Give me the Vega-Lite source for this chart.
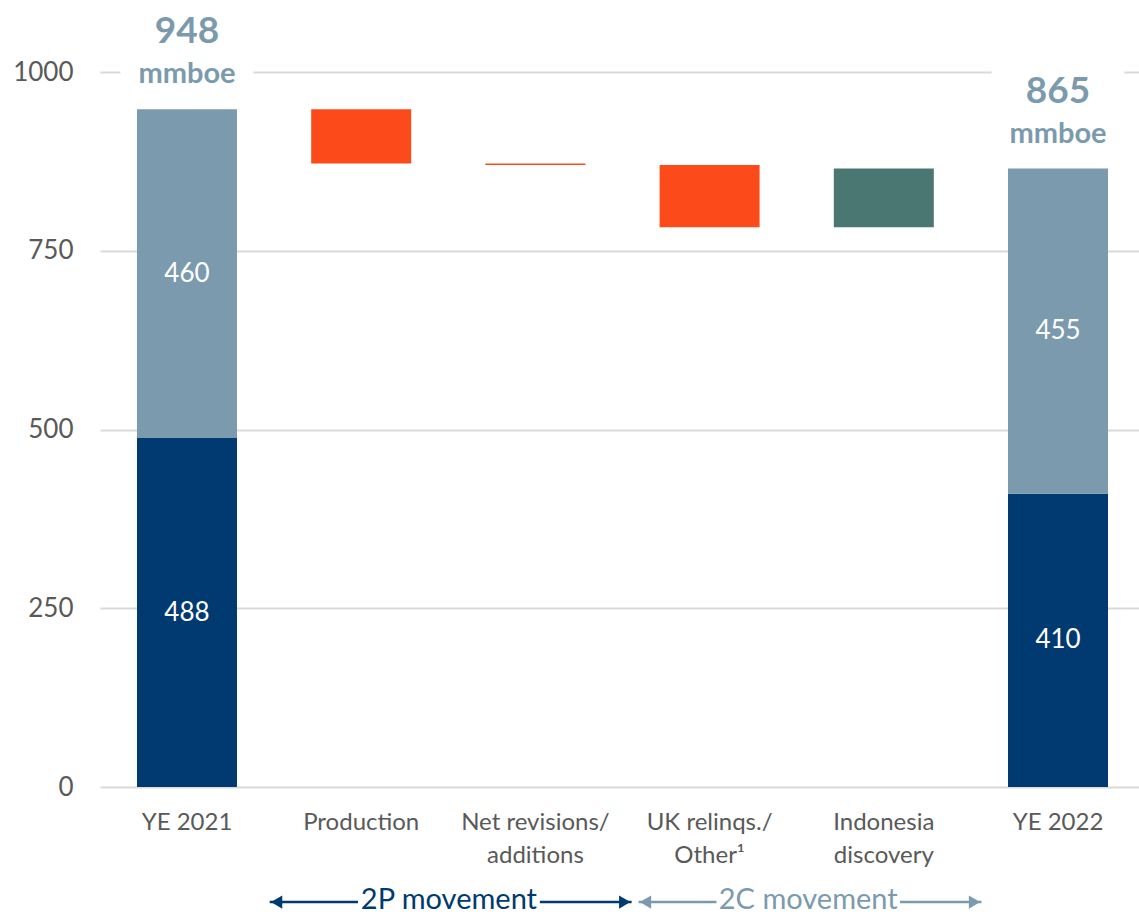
{
  "$schema": "https://vega.github.io/schema/vega-lite/v6.json",
  "width": 1039,
  "height": 715,
  "autosize": {"type": "none"},
  "padding": {"left": 100, "top": 72, "right": 0, "bottom": 129},
  "background": "white",
  "config": {"font": "Lato", "view": {"stroke": null}},
  "datasets": {
    "bars": [
      {"cat": "YE 2021", "start": 0, "end": 488, "type": "2P", "label": "488"},
      {"cat": "YE 2021", "start": 488, "end": 948, "type": "2C", "label": "460"},
      {"cat": "Production", "start": 948, "end": 872, "type": "decrease"},
      {"cat": "Net revisions/|additions", "start": 872, "end": 870, "type": "decrease"},
      {"cat": "UK relinqs./|Other¹", "start": 870, "end": 783, "type": "decrease"},
      {"cat": "Indonesia|discovery", "start": 783, "end": 865, "type": "increase"},
      {"cat": "YE 2022", "start": 0, "end": 410, "type": "2P", "label": "410"},
      {"cat": "YE 2022", "start": 410, "end": 865, "type": "2C", "label": "455"}
    ],
    "totals": [
      {"cat": "YE 2021", "total": 948},
      {"cat": "YE 2022", "total": 865}
    ],
    "segments": [
      {"type": "2P", "x": 0.98, "x2": 1.49},
      {"type": "2P", "x": 2.54, "x2": 3.07},
      {"type": "2C", "x": 3.11, "x2": 3.56},
      {"type": "2C", "x": 4.62, "x2": 5.09}
    ],
    "heads": [
      {"type": "2P", "x": 1.02, "side": "left"},
      {"type": "2P", "x": 3.03, "side": "right"},
      {"type": "2C", "x": 3.15, "side": "left"},
      {"type": "2C", "x": 5.05, "side": "right"}
    ],
    "captions": [
      {"type": "2P", "x": 2.015, "caption": "2P movement"},
      {"type": "2C", "x": 4.09, "caption": "2C movement"}
    ]
  },
  "resolve": {"scale": {"x": "independent"}},
  "layer": [
    {
      "encoding": {
        "x": {
          "field": "cat",
          "type": "nominal",
          "sort": ["YE 2021", "Production", "Net revisions/|additions", "UK relinqs./|Other¹", "Indonesia|discovery", "YE 2022"],
          "scale": {
            "domain": ["YE 2021", "Production", "Net revisions/|additions", "UK relinqs./|Other¹", "Indonesia|discovery", "YE 2022"],
            "range": [0, 1045],
            "paddingInner": 0.426,
            "paddingOuter": 0.2124
          },
          "axis": {
            "title": null,
            "domain": false,
            "ticks": false,
            "labelAngle": 0,
            "labelFontSize": 24,
            "labelColor": "#595959",
            "labelPadding": 23,
            "labelBaseline": "top",
            "labelLineHeight": 33,
            "labelLimit": 300,
            "labelExpr": "split(datum.value, '|')"
          }
        }
      },
      "layer": [
        {
          "data": {"name": "bars"},
          "mark": {"type": "bar"},
          "encoding": {
            "y": {
              "field": "start",
              "type": "quantitative",
              "scale": {"domain": [0, 1000]},
              "axis": {
                "values": [0, 250, 500, 750, 1000],
                "format": "d",
                "title": null,
                "domain": false,
                "ticks": false,
                "grid": true,
                "gridColor": "#D9D9D9",
                "gridWidth": 2,
                "labelFontSize": 26,
                "labelColor": "#595959",
                "labelPadding": 27
              }
            },
            "y2": {"field": "end"},
            "color": {
              "field": "type",
              "type": "nominal",
              "scale": {
                "domain": ["2P", "2C", "decrease", "increase"],
                "range": ["#003A70", "#7B9AAE", "#FC4A1A", "#4A7772"]
              },
              "legend": null
            }
          }
        },
        {
          "data": {"name": "totals"},
          "mark": {"type": "tick", "color": "white", "thickness": 6, "size": 133, "opacity": 1},
          "encoding": {
            "y": {"datum": 1000, "type": "quantitative"}
          }
        },
        {
          "data": {"name": "bars"},
          "transform": [
            {"filter": "datum.label != null"},
            {"fold": ["start", "end"], "as": ["bound", "level"]}
          ],
          "mark": {"type": "text", "color": "white", "fontSize": 26, "baseline": "middle"},
          "encoding": {
            "y": {"field": "level", "aggregate": "mean", "type": "quantitative"},
            "text": {"field": "label", "type": "nominal"}
          }
        },
        {
          "data": {"name": "totals"},
          "mark": {"type": "text", "color": "#7B9AAE", "fontSize": 37, "fontWeight": "bold", "baseline": "alphabetic", "dy": -66},
          "encoding": {
            "y": {"field": "total", "type": "quantitative"},
            "text": {"field": "total", "type": "quantitative"}
          }
        },
        {
          "data": {"name": "totals"},
          "mark": {"type": "text", "color": "#7B9AAE", "fontSize": 29, "fontWeight": "bold", "baseline": "alphabetic", "dy": -26, "text": "mmboe"},
          "encoding": {
            "y": {"field": "total", "type": "quantitative"}
          }
        }
      ]
    },
    {
      "layer": [
        {
          "data": {"name": "segments"},
          "mark": {"type": "rule", "strokeWidth": 2.5},
          "encoding": {
            "x": {"field": "x", "type": "quantitative", "scale": {"domain": [0, 6], "nice": false, "zero": false}, "axis": null},
            "x2": {"field": "x2"},
            "y": {"datum": -161, "type": "quantitative"},
            "color": {"field": "type", "type": "nominal", "legend": null}
          }
        },
        {
          "data": {"name": "heads"},
          "transform": [{"filter": "datum.side == 'left'"}],
          "mark": {"type": "point", "shape": "triangle-left", "filled": true, "size": 170, "opacity": 1},
          "encoding": {
            "x": {"field": "x", "type": "quantitative", "axis": null},
            "y": {"datum": -161, "type": "quantitative"},
            "color": {"field": "type", "type": "nominal", "legend": null}
          }
        },
        {
          "data": {"name": "heads"},
          "transform": [{"filter": "datum.side == 'right'"}],
          "mark": {"type": "point", "shape": "triangle-right", "filled": true, "size": 170, "opacity": 1},
          "encoding": {
            "x": {"field": "x", "type": "quantitative", "axis": null},
            "y": {"datum": -161, "type": "quantitative"},
            "color": {"field": "type", "type": "nominal", "legend": null}
          }
        },
        {
          "data": {"name": "captions"},
          "mark": {"type": "text", "fontSize": 29, "baseline": "middle"},
          "encoding": {
            "x": {"field": "x", "type": "quantitative", "axis": null},
            "y": {"datum": -158, "type": "quantitative"},
            "text": {"field": "caption", "type": "nominal"},
            "color": {"field": "type", "type": "nominal", "legend": null}
          }
        }
      ]
    }
  ]
}
